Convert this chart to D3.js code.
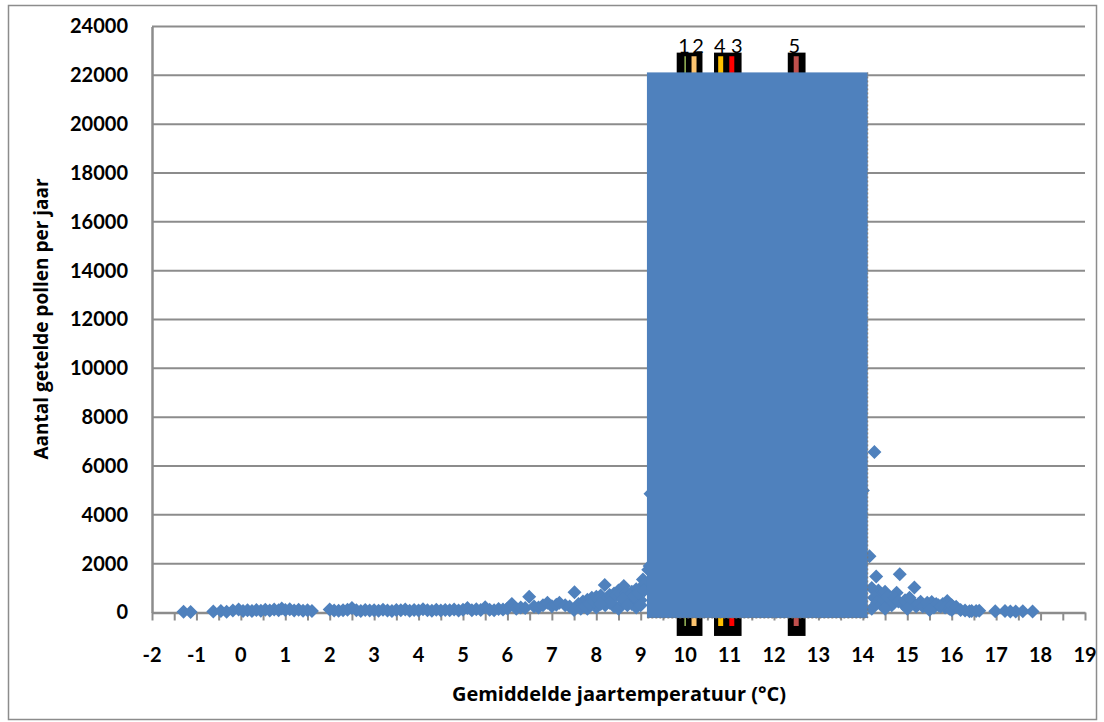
<!DOCTYPE html>
<html><head><meta charset="utf-8">
<script src="https://cdn.jsdelivr.net/npm/d3@7"></script>
<style>body{margin:0;background:#fff}</style>
</head><body><svg id="c" width="1104" height="722"></svg>
<script>
// Scatter data: mean annual temperature (°C) vs. counted pollen per year
const temps = [
 -1.29,-1.13,-0.62,-0.45,-0.32,-0.18,-0.05,0.05,0.15,0.25,0.35,0.45,0.55,0.65,0.75,0.85,0.92,1.0,1.1,1.2,1.3,1.4,1.5,1.6,
 2.0,2.1,2.2,2.3,2.4,2.5,2.6,2.7,2.8,2.9,3.0,3.1,3.2,3.3,3.4,3.5,3.6,3.7,3.8,3.9,4.0,4.1,4.2,4.3,4.4,4.5,4.6,4.7,4.8,4.9,
 5.0,5.1,5.2,5.3,5.4,5.5,5.6,5.7,5.8,5.9,6.0,6.1,6.2,6.3,6.4,6.49,6.6,6.7,6.8,6.9,7.0,7.1,7.17,7.3,7.4,7.51,7.6,7.7,7.8,
 7.9,8.0,8.1,8.19,8.3,8.4,8.5,8.62,8.7,8.8,8.9,9.0,9.05,9.1,9.17,9.2,9.22,
 7.5,7.8,8.0,8.2,8.4,8.5,8.6,8.8,8.9,9.0,
 7.65,7.75,7.85,7.95,8.05,8.15,8.25,8.35,8.45,8.55,8.65,8.75,8.85,8.95,9.08,8.3,8.6,8.7,9.0,8.1,
 9.5,10.0,10.5,11.0,11.5,12.0,12.5,13.0,13.5,14.0,
 14.15,14.26,14.3,14.35,14.4,14.5,14.6,14.7,14.76,14.83,14.9,15.0,15.1,15.16,15.2,15.3,15.4,15.55,15.6,15.7,15.8,15.9,
 14.2,14.25,14.32,14.42,14.47,14.55,14.65,14.72,14.8,14.95,15.05,15.25,15.35,15.45,15.5,15.65,15.75,15.85,15.95,16.05,
 14.2,14.5,15.0,15.5,16.0,16.4,16.45,
 16.0,16.1,16.2,16.3,16.55,16.62,16.98,17.2,17.32,17.44,17.6,17.82
];
const pollen = [
 30,20,40,60,30,80,120,60,90,60,100,70,110,80,120,90,160,100,130,80,110,70,90,60,
 120,80,70,90,110,180,90,60,100,80,90,70,110,80,60,100,90,120,70,100,80,130,90,70,110,80,100,90,120,80,
 110,180,90,130,100,220,110,90,140,120,160,350,150,200,180,650,250,200,300,400,260,320,400,300,250,830,350,450,520,
 600,650,700,1130,720,780,900,1090,760,850,950,1000,1350,1200,1750,1900,4860,
 100,150,200,300,250,150,400,350,200,500,
 150,250,350,450,500,550,600,650,700,750,800,700,650,800,900,400,550,300,300,350,
 3000,5000,9000,15000,21000,18000,12000,9000,7000,5000,
 2300,6570,1470,900,700,850,500,400,810,1570,350,300,450,1020,250,440,300,430,200,300,350,470,
 1000,600,400,300,500,650,300,600,450,500,600,350,250,400,200,350,250,200,150,200,
 150,150,150,100,100,50,60,
 300,240,100,80,60,70,50,60,40,40,50,40
];
const xLabels = d3.range(-2, 20);
const xMinorTicks = d3.range(-2, 19.01, 0.5);
const yTicks = d3.range(0, 24001, 2000);

// Overlay: large blue block and numbered vertical markers
const blockX = [9.14, 14.11];
const blockY = [-225, 22120];
const boxRanges = [[9.81, 10.39], [10.65, 11.27], [12.31, 12.71]];
const boxY = [-960, 22930];
const markerTemps = [10.0, 10.2, 11.05, 10.8, 12.5];
const markerLabels = ["1", "2", "3", "4", "5"];
const markerColors = ["#9BBB59", "#FDC46F", "#FF0000", "#FFC000", "#C0504D"];
const markerWidths = [1.5, 5, 5, 5, 5];
const markerLabelShift = [-1, 4, 5, -1, -2];
const markerY = [-550, 22780];

const xTitle = "Gemiddelde jaartemperatuur (°C)";
const yTitle = "Aantal getelde pollen per jaar";

const svg = d3.select("#c");
const x = d3.scaleLinear().domain([-2, 19]).range([152, 1085]);
const y = d3.scaleLinear().domain([0, 24000]).range([612.5, 26.5]);
const font = "Lato, 'Open Sans', sans-serif";
const titleFont = "'Open Sans', Lato, sans-serif";
const blue = "#4F81BD";

// outer frame
svg.append("rect").attr("x", 8.5).attr("y", 5.5).attr("width", 1088).attr("height", 714)
  .attr("fill", "#fff").attr("stroke", "#8c8c8c").attr("stroke-width", 1.5);

// gridlines
svg.append("g").selectAll("line").data(yTicks.filter(d => d > 0)).join("line")
  .attr("x1", x(-2)).attr("x2", x(19)).attr("y1", d => y(d)).attr("y2", d => y(d))
  .attr("stroke", "#8c8c8c").attr("stroke-width", 2);

// y axis
const yAxis = d3.axisLeft(y).tickValues(yTicks).tickSize(0).tickPadding(24).tickFormat(d3.format("d"));
const gy = svg.append("g").attr("transform", `translate(${x(-2)},0)`).call(yAxis);
gy.select(".domain").attr("stroke", "#8c8c8c").attr("stroke-width", 2.5);
gy.selectAll("text").attr("font-family", font).attr("font-weight", "bold").attr("font-size", 20).attr("fill", "#000");

// x axis (minor ticks every 0.5, labels every 1)
const xAxis = d3.axisBottom(x).tickValues(xMinorTicks).tickSize(8).tickSizeOuter(0).tickFormat("");
const gx = svg.append("g").attr("transform", `translate(0,${y(0)})`).call(xAxis);
gx.select(".domain").attr("stroke", "#8c8c8c").attr("stroke-width", 2.5);
gx.selectAll(".tick line").attr("stroke", "#8c8c8c").attr("stroke-width", 2);
svg.append("g").selectAll("text").data(xLabels).join("text")
  .attr("x", d => x(d)).attr("y", 662).attr("text-anchor", "middle")
  .attr("font-family", font).attr("font-weight", "bold").attr("font-size", 20).text(d => d);

// scatter
const diamond = "M0,-7L7,0L0,7L-7,0Z";
svg.append("g").selectAll("path").data(temps.map((t, i) => [t, pollen[i]])).join("path")
  .attr("d", diamond).attr("transform", d => `translate(${x(d[0])},${y(d[1])})`)
  .attr("fill", blue);

// black boxes
svg.append("g").selectAll("rect").data(boxRanges).join("rect")
  .attr("x", d => x(d[0])).attr("width", d => x(d[1]) - x(d[0]))
  .attr("y", y(boxY[1])).attr("height", y(boxY[0]) - y(boxY[1])).attr("fill", "#000");

// coloured marker lines
svg.append("g").selectAll("line").data(markerTemps).join("line")
  .attr("x1", d => x(d)).attr("x2", d => x(d))
  .attr("y1", y(markerY[1])).attr("y2", y(markerY[0]))
  .attr("stroke", (d, i) => markerColors[i]).attr("stroke-width", (d, i) => markerWidths[i]);

// blue block
svg.append("rect").attr("x", x(blockX[0])).attr("width", x(blockX[1]) - x(blockX[0]))
  .attr("y", y(blockY[1])).attr("height", y(blockY[0]) - y(blockY[1])).attr("fill", blue);
svg.append("path")
  .attr("d", `M${x(blockX[1])},${y(blockY[1])}V${y(blockY[0])}H${x(blockX[0])}`)
  .attr("fill", "none").attr("stroke", "#777").attr("stroke-width", 1).attr("stroke-dasharray", "2,2");

// marker labels
svg.append("g").selectAll("text").data(markerTemps).join("text")
  .attr("x", (d, i) => x(d) + markerLabelShift[i]).attr("y", 53).attr("text-anchor", "middle")
  .attr("font-family", font).attr("font-size", 20).attr("fill", "#000").text((d, i) => markerLabels[i]);

// axis titles
svg.append("text").attr("x", 619).attr("y", 701).attr("text-anchor", "middle")
  .attr("font-family", titleFont).attr("font-weight", "bold").attr("font-size", 20).text(xTitle);
svg.append("text").attr("transform", "translate(48,319) rotate(-90)").attr("text-anchor", "middle")
  .attr("font-family", titleFont).attr("font-weight", "bold").attr("font-size", 19).text(yTitle);
</script></body></html>
